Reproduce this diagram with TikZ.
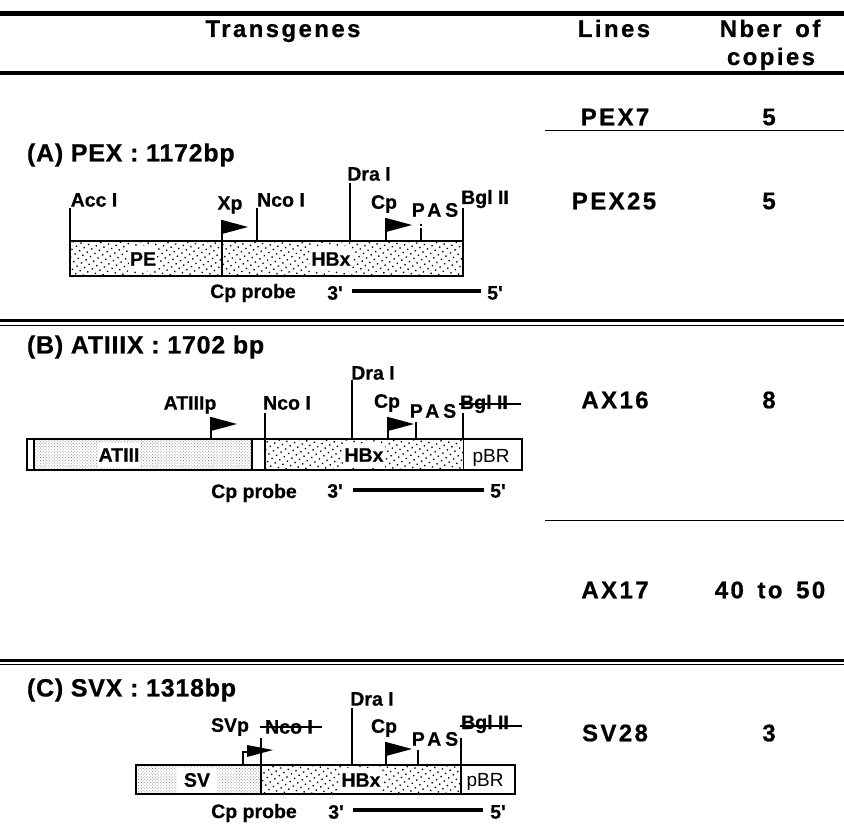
\documentclass[tikz,border=0pt]{standalone}
\usepackage{fontspec}
\setmainfont{Liberation Sans}
\newfontfamily\spaced{Liberation Sans Bold}[LetterSpace=10,WordSpace=1.5,FakeBold=0.7]
\newfontfamily\titlefont{Liberation Sans Bold}[LetterSpace=3,FakeBold=0.7]
\newfontfamily\pasfont{Liberation Sans Bold}[LetterSpace=20,FakeBold=0.5]
\newfontfamily\sitefont{Liberation Sans Bold}[FakeBold=0.5]
\usetikzlibrary{patterns.meta}
\tikzset{
  x=1pt,y=-1pt,
  every node/.style={inner sep=0pt,outer sep=0pt},
  hdr/.style={font=\spaced\fontsize{24}{28}\selectfont,align=center},
  title/.style={font=\titlefont\fontsize{25}{27}\selectfont,anchor=west},
  site/.style={font=\sitefont\fontsize{19.5}{21}\selectfont},
  part/.style={font=\sitefont\fontsize{19.5}{21}\selectfont,fill=white,inner sep=1pt,minimum height=25pt},
  plain part/.style={font=\fontsize{19}{21}\selectfont},
  pas/.style={font=\pasfont\fontsize{19.5}{21}\selectfont},
  rule/.style={line width=1pt},
  strike/.style={line width=1.5pt},
  tick/.style={line width=2.2pt},
  box/.style={line width=2.8pt},
  probe/.style={line width=4.5pt},
  coarse/.style={pattern={Dots[distance=5.5pt,radius=0.95pt,angle=35]},pattern color=black},
  fine/.style={pattern={Dots[distance=2.2pt,radius=0.55pt,angle=45]},pattern color=black!50},
  flag/.style={fill=black,draw=none},
}
\newcommand{\gflag}[3]{% x, top y, base y
  \draw[tick] (#1,#3) -- (#1,#2);
  \fill[flag] (#1,#2) -- ++(26,7) -- ++(-26,7) -- cycle;}
\begin{document}
\begin{tikzpicture}
\useasboundingbox (0,0) rectangle (844,837);
\fill[white] (0,0) rectangle (844,837);
% table rules
\draw[line width=5.5pt] (0,13.5) -- (844,13.5);
\draw[line width=4pt] (0,73) -- (844,73);
\draw[rule] (545,131) -- (844,131);
\draw[line width=3pt] (0,321) -- (844,321);
\draw[line width=1.5pt] (0,325.5) -- (844,325.5);
\draw[rule] (545,520) -- (844,520);
\draw[line width=3pt] (0,660) -- (844,660);
\draw[line width=1.5pt] (0,664.5) -- (844,664.5);
% header
\node[hdr,anchor=base] (hT) at (283,37) {Transgenes};
\node[hdr,anchor=base] (hL) at (614,37) {Lines};
\node[hdr,anchor=base] (hN1) at (770,37) {Nber of};
\node[hdr,anchor=base] (hN2) at (771,65) {copies};
% table rows
\node[hdr] (l1) at (615,117) {PEX7};
\node[hdr] (n1) at (769,117) {5};
\node[hdr] (l2) at (614,201) {PEX25};
\node[hdr] (n2) at (769,201) {5};
\node[hdr] (l3) at (615,400) {AX16};
\node[hdr] (n3) at (769,400) {8};
\node[hdr] (l4) at (615,590) {AX17};
\node[hdr] (n4) at (770,590) {40 to 50};
\node[hdr] (l5) at (615,733) {SV28};
\node[hdr] (n5) at (769,733) {3};

% ---------- A
\node[title] (tA) at (27,155) {(A) PEX : 1172bp};
\fill[coarse] (70,241) rectangle (463,276);
\node[part] (aPE) at (143,259) {PE};
\node[part] (aH) at (331,259) {HBx};
\draw[box] (70,241) rectangle (463,276);
\draw[box] (222,241) -- (222,276);
\draw[tick] (70,241) -- (70,208);
\draw[tick] (257,241) -- (257,208);
\draw[tick] (350,241) -- (350,183);
\draw[tick] (463,241) -- (463,208);
\draw[tick,dash pattern=on 12pt off 2pt on 2pt off 2pt] (421,240) -- (421,222);
\gflag{222}{220}{241}
\gflag{386}{218}{241}
\node[site] (aAcc) at (94,200) {Acc I};
\node[site] (aXp) at (230,205) {Xp};
\node[site] (aNco) at (281,200) {Nco I};
\node[site] (aDra) at (369,174) {Dra I};
\node[site] (aCp) at (384,204) {Cp};
\node[pas] (aPAS) at (435,210) {PAS};
\node[site] (aBgl) at (485,199) {Bgl II};
\node[site] (aPr) at (253,293) {Cp probe};
\node[site] (a3) at (335,293) {3'};
\node[site] (a5) at (495,293) {5'};
\draw[probe] (352,291) -- (481,291);

% ---------- B
\node[title] (tB) at (27,347) {(B) ATIIIX : 1702 bp};
\fill[fine] (35,439) rectangle (252,470);
\fill[coarse] (265,439) rectangle (463,470);
\node[part] (bATIII) at (119,455) {ATIII};
\node[part] (bH) at (364,455) {HBx};
\draw[box] (27,439) rectangle (522,470);
\draw[box] (34,439) -- (34,470);
\draw[box] (252,439) -- (252,470);
\draw[box] (265,439) -- (265,470);
\draw[tick] (463,439) -- (463,413);
\draw[rule] (463,439) -- (463,470);
\draw[tick] (265,439) -- (265,413);
\draw[tick] (352,439) -- (352,380);
\draw[tick] (416,439) -- (416,422);
\gflag{211}{417}{439}
\gflag{388}{417}{439}
\node[site] (bAT) at (190,405) {ATIIIp};
\node[site] (bNco) at (287,403) {Nco I};
\node[site] (bDra) at (373,373) {Dra I};
\node[site] (bCp) at (387,403) {Cp};
\node[pas] (bPAS) at (433,411) {PAS};
\node[site] (bBgl) at (484,404) {Bgl II};
\draw[strike] (459,404) -- (521,404);
\node[plain part] (bp) at (491,458) {pBR};
\node[site] (bPr) at (254,493) {Cp probe};
\node[site] (b3) at (335,491) {3'};
\node[site] (b5) at (498,491) {5'};
\draw[probe] (353,490) -- (484,490);

% ---------- C
\node[title] (tC) at (27,690) {(C) SVX : 1318bp};
\fill[fine] (138,765) rectangle (261,794);
\fill[coarse] (261,765) rectangle (461,794);
\node[part,minimum width=40pt] (cSVb) at (197,780) {SV};
\node[part] (cH) at (361,780) {HBx};
\draw[box] (136,765) rectangle (515,794);
\draw[box] (261,765) -- (261,794);
\draw[box] (461,765) -- (461,794);
\draw[tick] (461,765) -- (461,738);
\draw[tick] (352,765) -- (352,708);
\draw[tick] (418,765) -- (418,750);
\draw[tick] (261,765) -- (261,738);
\draw[tick] (243,765) -- (243,752) -- (247,752);
\fill[flag] (247,745) -- (273,750) -- (247,757) -- cycle;
\gflag{386}{742}{765}
\node[site] (cSV) at (230,727) {SVp};
\node[site] (cNco) at (289,727) {Nco I};
\draw[strike] (260,727) -- (322,727);
\node[site] (cDra) at (372,699) {Dra I};
\node[site] (cCp) at (384,728) {Cp};
\node[pas] (cPAS) at (435,739) {PAS};
\node[site] (cBgl) at (485,724) {Bgl II};
\draw[strike] (460,726) -- (522,726);
\node[plain part] (cp) at (485,782) {pBR};
\node[site] (cPr) at (254,813) {Cp probe};
\node[site] (c3) at (336,812) {3'};
\node[site] (c5) at (498,812) {5'};
\draw[probe] (353,810) -- (483,810);
\end{tikzpicture}
\end{document}
